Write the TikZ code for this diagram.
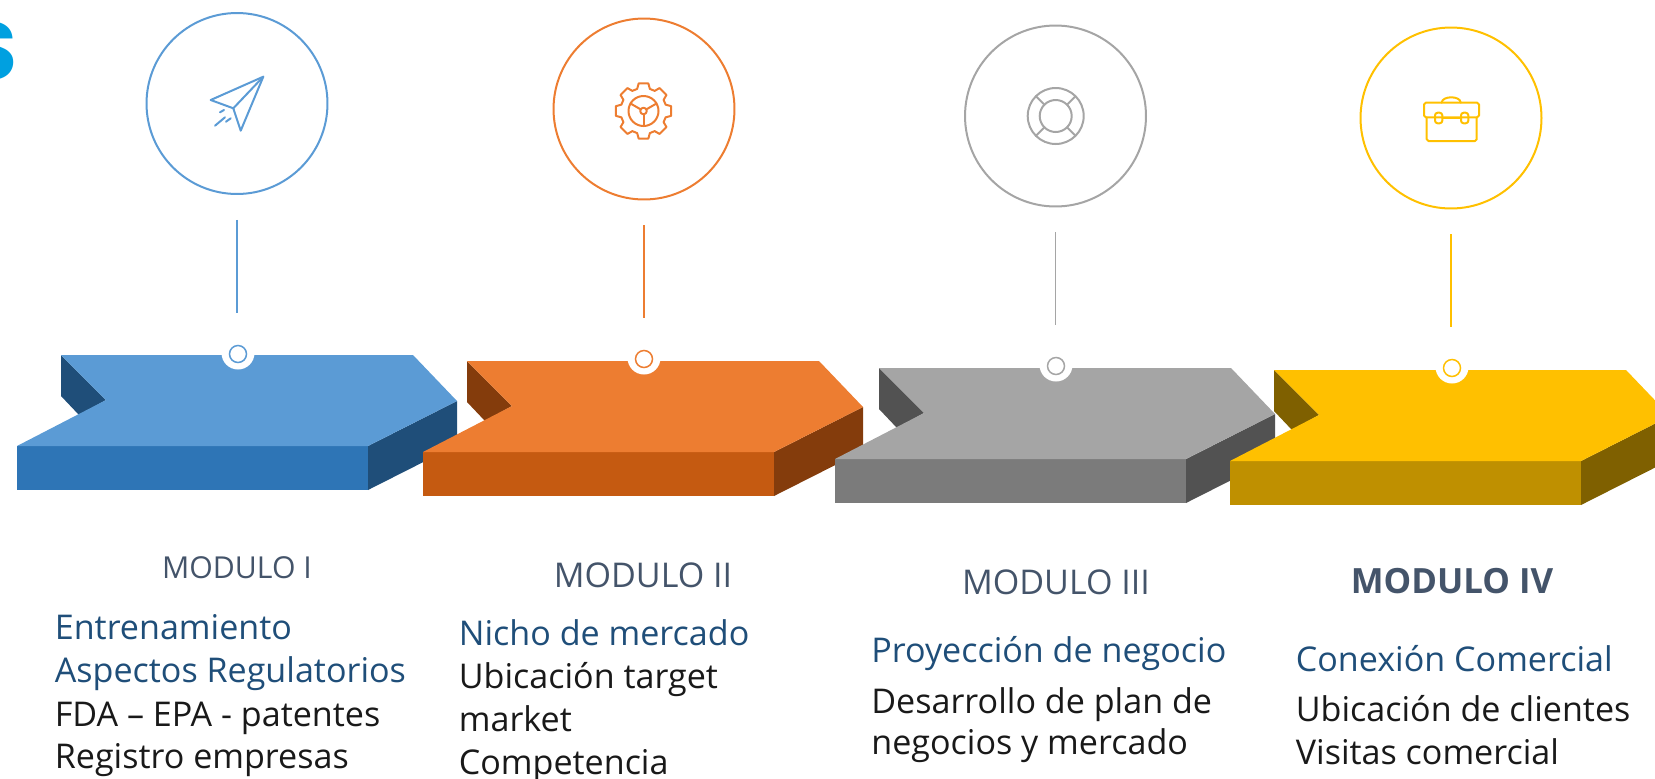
\documentclass[tikz,border=0pt]{standalone}
\usepackage{xcolor}
\usepackage{fontspec}
\setmainfont{Open Sans}
\newfontfamily\logofont{Poppins}

\definecolor{blueT}{HTML}{5B9BD5}
\definecolor{blueF}{HTML}{2E75B6}
\definecolor{blueS}{HTML}{1F4E79}
\definecolor{orangeT}{HTML}{ED7D31}
\definecolor{orangeF}{HTML}{C55A11}
\definecolor{orangeS}{HTML}{843C0C}
\definecolor{grayT}{HTML}{A5A5A5}
\definecolor{grayF}{HTML}{7B7B7B}
\definecolor{grayS}{HTML}{525252}
\definecolor{yellowT}{HTML}{FFC000}
\definecolor{yellowF}{HTML}{BF9000}
\definecolor{yellowS}{HTML}{7F6000}
\definecolor{headcol}{HTML}{44546A}
\definecolor{subcol}{HTML}{1F4E79}
\definecolor{logocol}{HTML}{00A0E0}

\tikzset{
    ring/.style={circle, draw=#1, line width=0.04cm, minimum size=3.62cm, inner sep=0pt},
    dot/.style={circle, draw=#1, fill=white, line width=0.03cm, minimum size=0.34cm, inner sep=0pt},
    stem/.style={draw=#1, line width=0.025cm, shorten <=0.5cm, shorten >=0.64cm},
    icon/.style={draw=#1, line width=0.04cm, line join=round, line cap=round},
    modhead/.style={anchor=base, inner sep=0pt, text=headcol, font=\fontsize{19.4}{24}\selectfont},
    subhead/.style={anchor=base west, inner sep=0pt, text=subcol, font=\fontsize{19.4}{24}\selectfont},
    bodyline/.style={anchor=base west, inner sep=0pt, text=black!90, font=\fontsize{19.4}{24}\selectfont}
}

% one block: x, y of front left corner, top, front, side colours
\newcommand{\chevblock}[5]{
    \begin{scope}[shift={(#1,#2)}]
        \fill[#5] (44,-91) -- (44,-50) -- (62,-31) -- (89,-46) -- cycle; % notch wall
        \fill[#5] (351,0) -- (440,-45) -- (440,-1) -- (351,44) -- cycle; % side
        \fill[#4] (0,0) -- (351,0) -- (351,44) -- (0,44) -- cycle; % front
        \fill[#3] (0,0) -- (89,-46) -- (44,-91) -- (396,-91) -- (440,-45) -- (351,0) -- cycle; % top
    \end{scope}
}

\begin{document}
\begin{tikzpicture}[x=0.02cm, y=-0.02cm]
    \useasboundingbox (0,0) rectangle (1655,778);

    \node[anchor=base east, inner sep=0pt, text=logocol, font=\logofont\bfseries\fontsize{46}{46}\selectfont] (logo) at (18,79) {S};

    \chevblock{17}{446}{blueT}{blueF}{blueS}
    \chevblock{423}{452}{orangeT}{orangeF}{orangeS}
    \chevblock{835}{459}{grayT}{grayF}{grayS}
    \chevblock{1230}{461}{yellowT}{yellowF}{yellowS}

    \fill[white] (238,353) circle (16.5);
    \fill[white] (644,358) circle (16.5);
    \fill[white] (1056,365) circle (16.5);
    \fill[white] (1452,367) circle (16.5);

    \node[ring=blueT] (c1) at (237,103.5) {};
    \node[ring=orangeT] (c2) at (644,109) {};
    \node[ring=grayT] (c3) at (1055.5,116) {};
    \node[ring=yellowT] (c4) at (1451,118) {};

    \node[dot=blueT] (d1) at (238,354) {};
    \node[dot=orangeT] (d2) at (644,359) {};
    \node[dot=grayT] (d3) at (1056,366) {};
    \node[dot=yellowT] (d4) at (1452,368) {};

    \draw[stem=blueT] (c1.south) -- (c1.south |- d1.north); % I
    \draw[stem=orangeT] (c2.south) -- (c2.south |- d2.north); % II
    \draw[stem=grayT] (c3.south) -- (c3.south |- d3.north); % III
    \draw[stem=yellowT] (c4.south) -- (c4.south |- d4.north); % IV

    % plane
    \draw[icon=blueT] (263.3,76.7) -- (210.7,100) -- (233.3,108.3) -- (240.7,130.7) -- cycle;
    \draw[icon=blueT] (233.3,108.3) -- (263.3,76.7);
    \draw[icon=blueT] (215,125.7) -- (225,117.3);
    \draw[icon=blueT] (226,121.7) -- (230.7,118.3);
    \draw[icon=blueT] (220,112.3) -- (224,110);

    % gear
    \begin{scope}[shift={(643.5,111)}]
        \draw[icon=orangeT] (-16:23) \foreach \a in {0,45,...,315}{ -- (\a-16:23) -- (\a-10:28) -- (\a+10:28) -- (\a+16:23)} -- cycle;
        \draw[icon=orangeT] (0,0) circle (15);
        \draw[icon=orangeT] (0,0) circle (3.3);
        \foreach \a in {90,210,330}
            \draw[icon=orangeT] (\a:3.3) -- (\a:15);
    \end{scope}

    % lifebuoy
    \begin{scope}[shift={(1055.7,116)}]
        \draw[icon=grayT] (0,0) circle (28);
        \draw[icon=grayT] (0,0) circle (16);
        \foreach \a in {45,135,225,315}
            \draw[icon=grayT] (\a:16) -- (\a:28);
    \end{scope}

    % briefcase
    \draw[icon=yellowT, rounded corners=1pt] (1424,102.7) rectangle (1479,117.3);
    \draw[icon=yellowT, rounded corners=1pt] (1426.7,117.3) -- (1426.7,141) -- (1476.7,141) -- (1476.7,117.3);
    \draw[icon=yellowT] (1441.7,102.7) .. controls (1442,95.5) and (1460.5,95.5) .. (1460.7,102.7);
    \draw[icon=yellowT, rounded corners=1.5pt] (1435,112.7) rectangle (1442.3,123.3);
    \draw[icon=yellowT, rounded corners=1.5pt] (1461,112.7) rectangle (1468.3,123.3);
    \draw[icon=yellowT] (1442.3,118) -- (1461,118);

    \node[modhead, font=\fontsize{17.2}{22}\selectfont] (m1) at (237,578) {MODULO I};
    \node[modhead] (m2) at (643,587) {MODULO II};
    \node[modhead] (m3) at (1056,594) {MODULO III};
    \node[modhead, font=\bfseries\fontsize{19.8}{24}\selectfont] (m4) at (1452,593) {MODULO IV};

    \node[subhead] (t1a) at (54.5,639) {Entrenamiento};
    \node[subhead] (t1b) at (54.5,682) {Aspectos Regulatorios};
    \node[bodyline] (t1c) at (54.5,726) {FDA – EPA - patentes};
    \node[bodyline] (t1d) at (54.5,768) {Registro empresas};

    \node[subhead] (t2a) at (458.5,645) {Nicho de mercado};
    \node[bodyline] (t2b) at (458.5,688) {Ubicación target};
    \node[bodyline] (t2c) at (458.5,731) {market};
    \node[bodyline] (t2d) at (458.5,774) {Competencia};

    \node[subhead] (t3a) at (871,662) {Proyección de negocio};
    \node[bodyline] (t3b) at (871,713) {Desarrollo de plan de};
    \node[bodyline] (t3c) at (871,754) {negocios y mercado};

    \node[subhead] (t4a) at (1295.5,671) {Conexión Comercial};
    \node[bodyline] (t4b) at (1295.5,721) {Ubicación de clientes};
    \node[bodyline] (t4c) at (1295.5,764) {Visitas comercial};
\end{tikzpicture}
\end{document}
